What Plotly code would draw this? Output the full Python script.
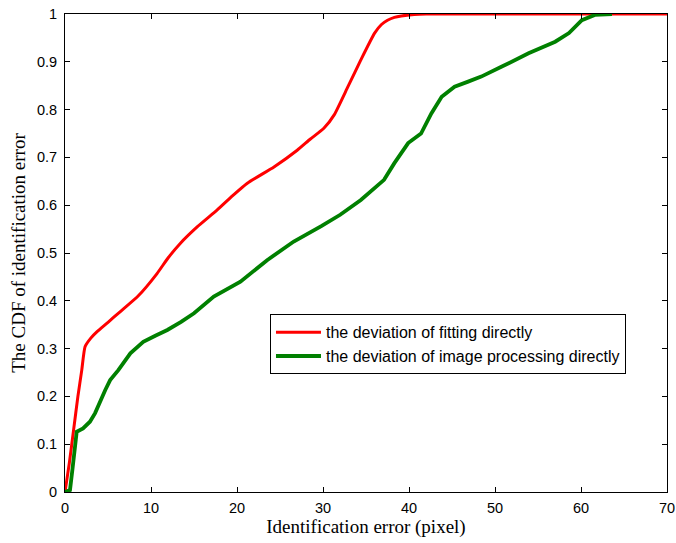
import plotly.graph_objects as go

# Identification error (pixel) and CDF values
red_x = [0, 0.5, 1.0, 1.5, 1.95, 2.33, 3.0, 3.7, 5.0, 6.4, 8.5, 10.7, 12.0, 13.4, 15.4, 17.7, 19.5,
         21.2, 24.3, 27.0, 28.5, 30.1, 31.3, 32.9, 34.4, 36.0, 36.8, 37.5, 38.3, 39.1, 40.6, 42.0, 50, 60, 70]
red_y = [0, 0.06, 0.13, 0.2, 0.255, 0.304, 0.322, 0.335, 0.355, 0.377, 0.41, 0.457, 0.49, 0.52, 0.555,
         0.59, 0.62, 0.646, 0.68, 0.715, 0.738, 0.761, 0.789, 0.848, 0.904, 0.96, 0.978, 0.987, 0.993,
         0.996, 0.999, 1.0, 1.0, 1.0, 1.0]

green_x = [0, 0.58, 0.9, 1.17, 1.36, 2.1, 2.9, 3.5, 4.1, 4.67, 5.25, 6.2, 7.6, 9.1, 10.5, 11.9, 13.5,
           15.0, 17.3, 20.4, 23.5, 26.6, 29.8, 32.0, 34.4, 37.1, 38.3, 39.9, 41.4, 42.6, 43.8, 45.3,
           46.8, 48.4, 50.8, 53.9, 57.0, 58.6, 60.1, 61.6, 63.6]
green_y = [0, 0.004, 0.053, 0.095, 0.126, 0.133, 0.147, 0.165, 0.192, 0.213, 0.234, 0.255, 0.29, 0.314,
           0.327, 0.339, 0.356, 0.374, 0.409, 0.44, 0.485, 0.524, 0.556, 0.58, 0.611, 0.653, 0.688,
           0.73, 0.75, 0.792, 0.827, 0.848, 0.858, 0.869, 0.89, 0.918, 0.942, 0.96, 0.987, 0.998, 1.0]

x_ticks = [0, 10, 20, 30, 40, 50, 60, 70]
y_ticks = [0, 0.1, 0.2, 0.3, 0.4, 0.5, 0.6, 0.7, 0.8, 0.9, 1]

fig = go.Figure()
fig.add_trace(go.Scatter(x=red_x, y=red_y, mode="lines", name="the deviation of fitting directly",
                         line=dict(color="#ff0000", width=3, shape="spline", smoothing=0.5)))
fig.add_trace(go.Scatter(x=green_x, y=green_y, mode="lines", name="the deviation of image processing directly",
                         line=dict(color="#008000", width=3.8)))

axis_common = dict(showgrid=False, zeroline=False, showline=True, linecolor="black", linewidth=1,
                   mirror="ticks", ticks="inside", ticklen=5, tickcolor="black", automargin=False,
                   tickfont=dict(family="Liberation Sans, Arial, sans-serif", size=14.5, color="black"))

fig.update_xaxes(range=[0, 70], tickvals=x_ticks, ticklabelstandoff=3,
                 title=dict(text="Identification error (pixel)", standoff=4,
                            font=dict(family="Liberation Serif, Times New Roman, serif", size=19, color="black")),
                 **axis_common)
fig.update_yaxes(range=[0, 1], tickvals=y_ticks, ticklabelstandoff=4,
                 title=dict(text="The CDF of identification error", standoff=6,
                            font=dict(family="Liberation Serif, Times New Roman, serif", size=19, color="black")),
                 **axis_common)

fig.update_layout(
    width=676, height=543,
    margin=dict(l=65, r=9, t=14, b=51),
    plot_bgcolor="white", paper_bgcolor="white",
    legend=dict(x=0.3405, y=0.309, xanchor="left", yanchor="middle",
                bgcolor="white", bordercolor="black", borderwidth=1, itemwidth=45,
                font=dict(family="Liberation Sans, Arial, sans-serif", size=16, color="black"),
                tracegroupgap=0),
)

fig.write_html("out.html", config={"displayModeBar": False},
               post_script="document.body.style.margin='0';document.body.style.overflow='hidden';")
